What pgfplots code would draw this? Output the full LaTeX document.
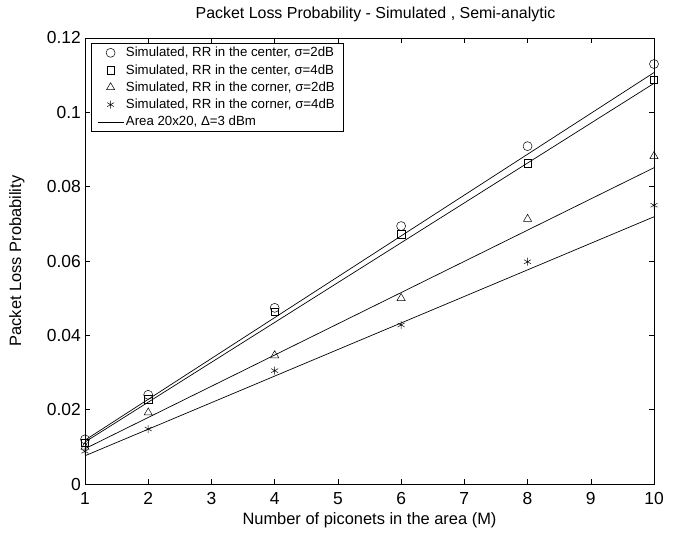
\documentclass[border=0pt]{standalone}
\usepackage{fontspec}
\setmainfont{Liberation Sans}
\usepackage{pgfplots}
\pgfplotsset{compat=1.18}
\usetikzlibrary{calc}
\begin{document}
\begin{tikzpicture}
\begin{axis}[
  scale only axis,
  width=569bp, height=446bp,
  xmin=1, xmax=10, ymin=0, ymax=0.12,
  xtick={1,2,...,10},
  ytick={0,0.02,0.04,0.06,0.08,0.1,0.12},
  yticklabels={0,0.02,0.04,0.06,0.08,0.1,0.12},
  scaled y ticks=false,
  tick align=inside,
  major tick length=5bp,
  tick style={black, line width=0.5bp},
  axis line style={line width=0.6bp},
  /pgf/number format/assume math mode=true,
  tick label style={font=\fontsize{17.5}{19}\selectfont},
  xticklabel style={inner sep=0pt, yshift=-8bp},
  yticklabel style={inner sep=0pt, xshift=-4bp},
  label style={font=\fontsize{16.5}{19}\selectfont},
  every axis title shift=0pt,
  title style={font=\fontsize{16}{19}\selectfont, at={(rel axis cs:0.5,1)}, anchor=center, yshift=24bp, xshift=6bp},
  title={Packet Loss Probability - Simulated , Semi-analytic},
  xlabel={Number of piconets in the area (M)},
  ylabel={Packet Loss Probability},
  xlabel style={at={(rel axis cs:0.5,0)}, anchor=center, yshift=-36bp},
  ylabel style={at={(rel axis cs:0,0.5)}, anchor=center, rotate=0, yshift=68bp},
  legend style={at={(0,1)}, anchor=north west, xshift=6bp, yshift=-5bp,
    font=\fontsize{13.3}{15}\selectfont, draw=black, line width=0.5bp,
    inner xsep=6bp, inner ysep=2bp, row sep=2.2bp, cells={anchor=west}},
  legend cell align=left,
  legend image code/.code={\draw[mark repeat=2, mark phase=2] plot coordinates {(0bp,0bp) (13bp,0bp) (26bp,0bp)};},
]
\coordinate (sw) at (rel axis cs:0,0);
\coordinate (ne) at (rel axis cs:1,1);
\addplot[only marks, mark=o, mark size=4.5bp, mark options={line width=0.5bp}] coordinates {
  (1,0.0120) (2,0.0240) (4,0.0474) (6,0.0694) (8,0.0909) (10,0.1130)};
\addlegendentry{Simulated, RR in the center, σ=2dB}
\addplot[only marks, mark=square, mark size=3.7bp, mark options={line width=0.5bp}] coordinates {
  (1,0.0111) (2,0.0228) (4,0.0464) (6,0.0672) (8,0.0863) (10,0.1088)};
\addlegendentry{Simulated, RR in the center, σ=4dB}
\addplot[only marks, mark=triangle, mark size=4.7bp, mark options={line width=0.5bp}] coordinates {
  (1,0.0100) (2,0.0192) (4,0.0346) (6,0.0500) (8,0.0713) (10,0.0882)};
\addlegendentry{Simulated, RR in the corner, σ=2dB}
\addplot[only marks, mark=asterisk, mark size=4bp, mark options={line width=0.5bp}] coordinates {
  (1,0.0088) (2,0.0148) (4,0.0305) (6,0.0428) (8,0.0598) (10,0.0750)};
\addlegendentry{Simulated, RR in the corner, σ=4dB}
\addplot[black, line width=0.7bp, no marks] coordinates {(1,0.0118) (10,0.1107)};
\addlegendentry{Area 20x20, Δ=3 dBm}
\addplot[black, line width=0.7bp, no marks, forget plot] coordinates {(1,0.0113) (10,0.1078)};
\addplot[black, line width=0.7bp, no marks, forget plot] coordinates {(1,0.0095) (10,0.0851)};
\addplot[black, line width=0.7bp, no marks, forget plot] coordinates {(1,0.0076) (10,0.0719)};
\end{axis}
\pgfresetboundingbox
\path[use as bounding box] ($(sw)+(-85bp,-63bp)$) rectangle ($(ne)+(20bp,38bp)$);
\end{tikzpicture}
\end{document}
